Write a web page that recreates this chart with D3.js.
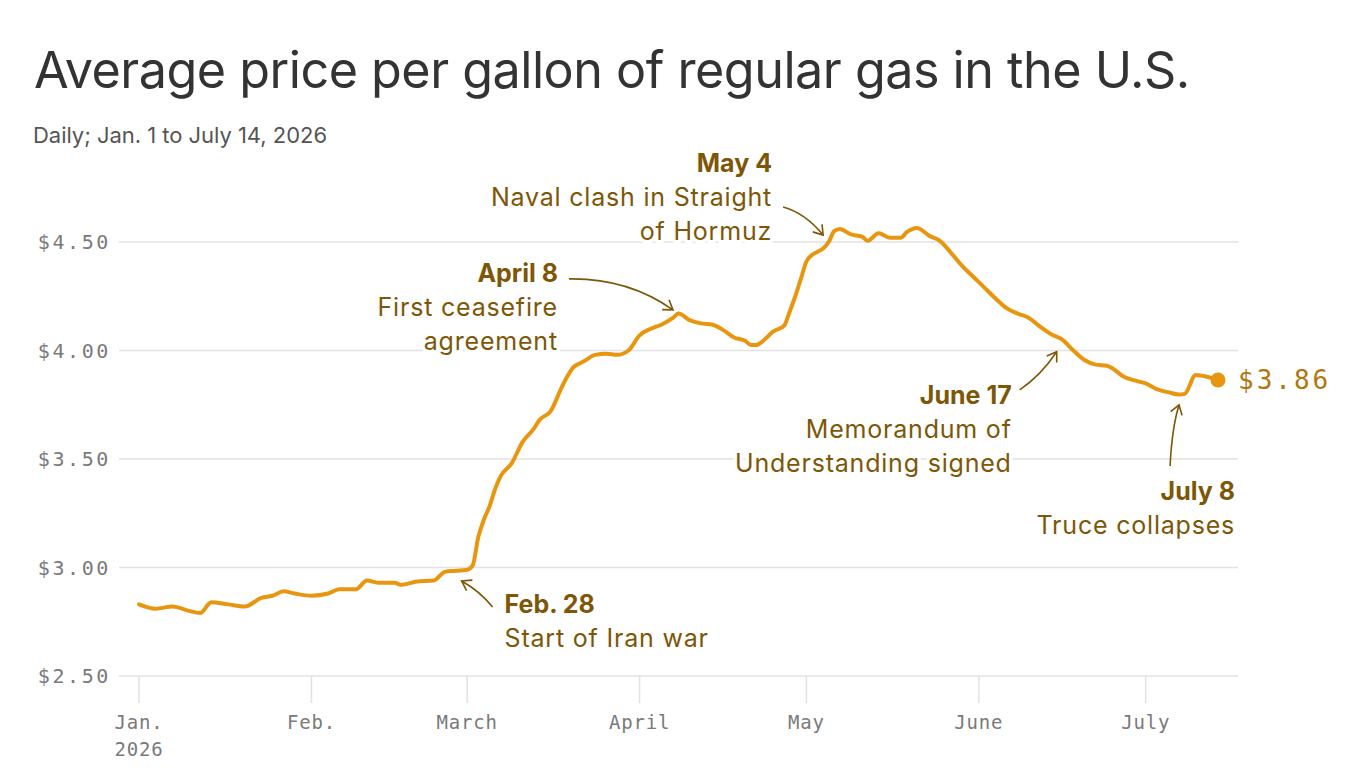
<!DOCTYPE html>
<html>
<head>
<meta charset="utf-8">
<script src="https://cdn.jsdelivr.net/npm/d3@7"></script>
<style>
  html, body { margin: 0; padding: 0; background: #fff; }
  svg { display: block; }
</style>
</head>
<body>
<svg id="chart" width="1366" height="768"></svg>
<script>
// ---------- DATA ----------
const dates = [
  "2026-01-01","2026-01-04","2026-01-07","2026-01-10","2026-01-12","2026-01-14","2026-01-17","2026-01-20",
  "2026-01-23","2026-01-25","2026-01-27","2026-01-29","2026-02-01","2026-02-04","2026-02-06","2026-02-09",
  "2026-02-11","2026-02-13","2026-02-16","2026-02-17","2026-02-20","2026-02-23","2026-02-25","2026-02-27",
  "2026-03-01","2026-03-02","2026-03-03","2026-03-04","2026-03-05","2026-03-06","2026-03-07","2026-03-09",
  "2026-03-11","2026-03-13","2026-03-14","2026-03-16","2026-03-18","2026-03-19","2026-03-20","2026-03-22",
  "2026-03-24","2026-03-26","2026-03-28","2026-03-30","2026-04-01","2026-04-03","2026-04-05","2026-04-07",
  "2026-04-08","2026-04-10","2026-04-12","2026-04-14","2026-04-16","2026-04-18","2026-04-20","2026-04-21",
  "2026-04-22","2026-04-23","2026-04-25","2026-04-27","2026-04-28","2026-04-29","2026-04-30","2026-05-01",
  "2026-05-02","2026-05-03","2026-05-04","2026-05-05","2026-05-06","2026-05-07","2026-05-09","2026-05-11",
  "2026-05-12","2026-05-14","2026-05-16","2026-05-18","2026-05-19","2026-05-21","2026-05-22","2026-05-23",
  "2026-05-25","2026-05-27","2026-05-29","2026-05-31","2026-06-02","2026-06-04","2026-06-06","2026-06-08",
  "2026-06-10","2026-06-12","2026-06-14","2026-06-16","2026-06-18","2026-06-20","2026-06-22","2026-06-24",
  "2026-06-25","2026-06-27","2026-06-29","2026-07-01","2026-07-03","2026-07-05","2026-07-07","2026-07-08",
  "2026-07-10","2026-07-12","2026-07-14"
];
const prices = [
  2.83,2.81,2.82,2.80,2.79,2.84,2.83,2.82,
  2.86,2.87,2.89,2.88,2.87,2.88,2.90,2.90,
  2.94,2.93,2.93,2.92,2.935,2.94,2.98,2.985,
  2.99,3.01,3.14,3.22,3.28,3.36,3.42,3.48,
  3.58,3.64,3.68,3.72,3.83,3.88,3.92,3.95,
  3.98,3.985,3.98,4.00,4.07,4.10,4.12,4.15,
  4.17,4.14,4.125,4.12,4.095,4.06,4.045,4.025,
  4.025,4.04,4.087,4.115,4.18,4.25,4.33,4.41,
  4.44,4.455,4.47,4.50,4.55,4.56,4.535,4.525,
  4.506,4.54,4.52,4.52,4.545,4.565,4.55,4.53,
  4.505,4.45,4.39,4.34,4.29,4.24,4.195,4.17,
  4.15,4.11,4.075,4.05,4.00,3.956,3.935,3.93,
  3.918,3.88,3.862,3.848,3.822,3.808,3.797,3.80,
  3.887,3.879,3.864
];
const yTicks = [2.5, 3.0, 3.5, 4.0, 4.5];
const monthTicks = ["2026-01-01","2026-02-01","2026-03-01","2026-04-01","2026-05-01","2026-06-01","2026-07-01"];
const monthLabels = ["Jan.","Feb.","March","April","May","June","July"];
const titleText = "Average price per gallon of regular gas in the U.S.";
const subtitleText = "Daily; Jan. 1 to July 14, 2026";
const endLabel = "$3.86";

// annotations: arrow head in data coordinates; text & arrow tail as pixel offsets from the head
const annotations = [
  { head: ["2026-05-04", 4.532], bold: "May 4", lines: ["Naval clash in Straight", "of Hormuz"],
    anchor: "end", tx: -51, ty: -63, tail: [-40, -28], ctrl: [-18, -22] },
  { head: ["2026-04-07", 4.187], bold: "April 8", lines: ["First ceasefire", "agreement"],
    anchor: "end", tx: -115, ty: -28, tail: [-104, -31], ctrl: [-45, -32] },
  { head: ["2026-02-28", 2.938], bold: "Feb. 28", lines: ["Start of Iran war"],
    anchor: "start", tx: 43, ty: 32, tail: [31, 26], ctrl: [18, 10] },
  { head: ["2026-06-15", 3.994], bold: "June 17", lines: ["Memorandum of", "Understanding signed"],
    anchor: "end", tx: -45, ty: 52, tail: [-37, 38], ctrl: [-16, 24] },
  { head: ["2026-07-07", 3.749], bold: "July 8", lines: ["Truce collapses"],
    anchor: "end", tx: 56, ty: 95, tail: [-9, 61], ctrl: [-7, 22] }
];

// ---------- SETUP ----------
const parse = d3.utcParse("%Y-%m-%d");
const data = dates.map((d, i) => ({ date: parse(d), price: prices[i] }));

const svg = d3.select("#chart");
const plot = { left: 139, right: 1218, top: 242, bottom: 676 };

const x = d3.scaleUtc()
  .domain([parse("2026-01-01"), parse("2026-07-14")])
  .range([plot.left, plot.right]);
const y = d3.scaleLinear()
  .domain([2.5, 4.5])
  .range([plot.bottom, plot.top]);

const lineColor = "#e8960f";
const annColor = "#7d5707";
const gridColor = "#e2e2e2";
const monoFont = "'DejaVu Sans Mono', 'Liberation Mono', monospace";
const sansFont = "Inter, Roboto, 'Noto Sans', sans-serif";

// ---------- TITLE ----------
const title = svg.append("text")
  .attr("x", 34).attr("y", 88)
  .attr("fill", "#333")
  .style("font-family", sansFont)
  .style("font-weight", 400)
  .style("font-size", "50px")
  .style("letter-spacing", "-0.5px")
  .text(titleText);
{
  const w = title.node().getComputedTextLength();
  title.style("font-size", (50 * 1156 / w) + "px");
}

const sub = svg.append("text")
  .attr("x", 33).attr("y", 143)
  .attr("fill", "#555")
  .style("font-family", sansFont)
  .style("font-size", "22px")
  .style("letter-spacing", "0px")
  .text(subtitleText);
{
  const w = sub.node().getComputedTextLength();
  const ls = (294 - w) / subtitleText.length;
  sub.style("letter-spacing", ls + "px");
}

// ---------- GRID + Y AXIS ----------
const gridG = svg.append("g");
gridG.selectAll("line.grid")
  .data(yTicks)
  .join("line")
  .attr("class", "grid")
  .attr("x1", 119).attr("x2", 1238)
  .attr("y1", d => y(d)).attr("y2", d => y(d))
  .attr("stroke", gridColor)
  .attr("stroke-width", 1.5);

gridG.selectAll("text.ylab")
  .data(yTicks)
  .join("text")
  .attr("class", "ylab")
  .attr("x", 111)
  .attr("y", d => y(d))
  .attr("dy", "0.36em")
  .attr("text-anchor", "end")
  .attr("fill", "#7a7a7a")
  .style("font-family", monoFont)
  .style("font-size", "20px")
  .style("letter-spacing", "2.6px")
  .text(d => "$" + d3.format(".2f")(d));

// ---------- X AXIS ----------
const xg = svg.append("g");
xg.selectAll("line.tick")
  .data(monthTicks)
  .join("line")
  .attr("class", "tick")
  .attr("x1", d => x(parse(d))).attr("x2", d => x(parse(d)))
  .attr("y1", plot.bottom).attr("y2", plot.bottom + 27)
  .attr("stroke", gridColor)
  .attr("stroke-width", 1.5);

xg.selectAll("text.xlab")
  .data(monthTicks)
  .join("text")
  .attr("class", "xlab")
  .attr("x", d => x(parse(d)))
  .attr("y", 729)
  .attr("text-anchor", "middle")
  .attr("fill", "#7a7a7a")
  .style("font-family", monoFont)
  .style("font-size", "19px")
  .style("letter-spacing", "0.8px")
  .text((d, i) => monthLabels[i]);
xg.append("text")
  .attr("x", x(parse(monthTicks[0])))
  .attr("y", 756)
  .attr("text-anchor", "middle")
  .attr("fill", "#7a7a7a")
  .style("font-family", monoFont)
  .style("font-size", "19px")
  .style("letter-spacing", "0.8px")
  .text("2026");

// ---------- LINE ----------
const line = d3.line()
  .x(d => x(d.date))
  .y(d => y(d.price))
  .curve(d3.curveMonotoneX);

svg.append("path")
  .datum(data)
  .attr("d", line)
  .attr("fill", "none")
  .attr("stroke", lineColor)
  .attr("stroke-width", 4)
  .attr("stroke-linejoin", "round")
  .attr("stroke-linecap", "round");

const last = data[data.length - 1];
svg.append("circle")
  .attr("cx", x(last.date)).attr("cy", y(last.price))
  .attr("r", 7.5)
  .attr("fill", lineColor);

svg.append("text")
  .attr("x", x(last.date) + 20)
  .attr("y", y(last.price))
  .attr("dy", "0.36em")
  .attr("fill", "#b3750e")
  .style("font-family", monoFont)
  .style("font-size", "26px")
  .style("letter-spacing", "3px")
  .text(endLabel);

// ---------- ANNOTATIONS ----------
const defs = svg.append("defs");
defs.append("marker")
  .attr("id", "arrowhead")
  .attr("viewBox", "-11 -7 13 14")
  .attr("refX", 0).attr("refY", 0)
  .attr("markerWidth", 13).attr("markerHeight", 14)
  .attr("markerUnits", "userSpaceOnUse")
  .attr("orient", "auto")
  .append("path")
  .attr("d", "M-9,-6 L0,0 L-9,6")
  .attr("fill", "none")
  .attr("stroke", annColor)
  .attr("stroke-width", 1.6);

const annG = svg.append("g");
annotations.forEach(a => {
  const hx = x(parse(a.head[0]));
  const hy = y(a.head[1]);
  const p = d3.path();
  p.moveTo(hx + a.tail[0], hy + a.tail[1]);
  p.quadraticCurveTo(hx + a.ctrl[0], hy + a.ctrl[1], hx, hy);
  annG.append("path")
    .attr("d", p.toString())
    .attr("fill", "none")
    .attr("stroke", annColor)
    .attr("stroke-width", 1.6)
    .attr("marker-end", "url(#arrowhead)");

  const t = annG.append("text")
    .attr("x", hx + a.tx)
    .attr("y", hy + a.ty)
    .attr("text-anchor", a.anchor)
    .attr("fill", annColor)
    .attr("stroke", "#fff")
    .attr("stroke-width", 7)
    .attr("stroke-linejoin", "round")
    .attr("paint-order", "stroke")
    .style("font-family", sansFont)
    .style("font-size", "25px")
    .style("letter-spacing", "0.8px");
  t.append("tspan")
    .attr("x", hx + a.tx)
    .style("font-weight", 700)
    .style("letter-spacing", "0px")
    .text(a.bold);
  a.lines.forEach(l => {
    t.append("tspan")
      .attr("x", hx + a.tx)
      .attr("dy", 34)
      .style("font-weight", 400)
      .text(l);
  });
});
</script>
</body>
</html>
